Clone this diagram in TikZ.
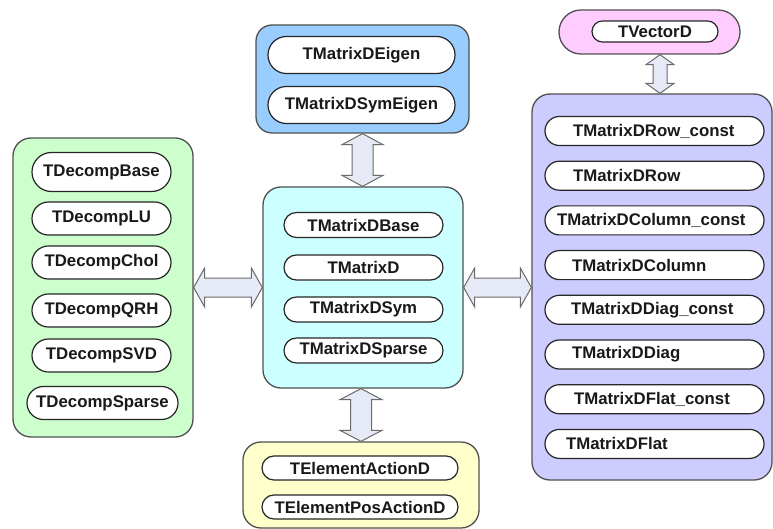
\documentclass[tikz,border=0pt]{standalone}
\usepackage{fontspec}
\setmainfont{Liberation Sans}
\usetikzlibrary{calc}
\definecolor{grn}{HTML}{CCFFCC}
\definecolor{blu}{HTML}{99CCFF}
\definecolor{cya}{HTML}{CCFFFF}
\definecolor{pnk}{HTML}{FFCCFF}
\definecolor{pur}{HTML}{CCCCFF}
\definecolor{yel}{HTML}{FFFFCC}
\definecolor{arf}{HTML}{E6EAF6}
\definecolor{edge}{HTML}{505050}
\definecolor{arline}{HTML}{6A6A6A}

\tikzset{
  grp/.style={draw=edge, line width=1.3pt, rounded corners=18pt, inner sep=0pt},
  pill/.style={draw=black!85, line width=1.2pt, fill=white, inner sep=0pt,
    font=\bfseries\fontsize{16.8}{18}\selectfont, text=black!90},
  gpill/.style={pill, minimum width=139pt, minimum height=33pt, rounded corners=16.4pt},
  cpill/.style={pill, minimum width=159pt, minimum height=25pt, rounded corners=12.4pt},
  bpill/.style={pill, minimum width=187pt, minimum height=37pt, rounded corners=18.4pt},
  ppill/.style={pill, minimum width=219pt, minimum height=29pt, rounded corners=14.4pt, align=left},
  ypill/.style={pill, minimum width=196pt, minimum height=24pt, rounded corners=11.9pt},
  kpill/.style={pill, minimum width=126pt, minimum height=21pt, rounded corners=10.4pt},
  arr/.style={draw=arline, line width=1pt, fill=arf, line join=miter},
}

\newcommand{\myvarrow}[5]{%
  \draw[arr] let \p1=(#1), \p2=(#2) in
  (\x1,\y1) -- (\x1+#3,\y1-#5) -- (\x1+#4,\y1-#5) -- (\x1+#4,\y2+#5) -- (\x1+#3,\y2+#5)
  -- (\x1,\y2) -- (\x1-#3,\y2+#5) -- (\x1-#4,\y2+#5) -- (\x1-#4,\y1-#5) -- (\x1-#3,\y1-#5) -- cycle;}
\newcommand{\myharrow}[5]{%
  \draw[arr] let \p1=(#1), \p2=(#2) in
  (\x1,\y1) -- (\x1+#5,\y1+#3) -- (\x1+#5,\y1+#4) -- (\x2-#5,\y1+#4) -- (\x2-#5,\y1+#3)
  -- (\x2,\y1) -- (\x2-#5,\y1-#3) -- (\x2-#5,\y1-#4) -- (\x1+#5,\y1-#4) -- (\x1+#5,\y1-#3) -- cycle;}

\begin{document}
\begin{tikzpicture}[x=1pt, y=-1pt]
\useasboundingbox (0,0) rectangle (773,529);

% group boxes
\node[grp, fill=grn, minimum width=180pt, minimum height=299pt] (green) at (103,287.5) {};
\node[grp, fill=blu, minimum width=213pt, minimum height=108pt, rounded corners=16pt] (blue) at (362.5,79) {};
\node[grp, fill=cya, minimum width=200pt, minimum height=201pt] (cyan) at (363,287.5) {};
\node[grp, fill=pnk, minimum width=181pt, minimum height=44pt, rounded corners=21.9pt] (pink) at (649.5,32) {};
\node[grp, fill=pur, minimum width=240pt, minimum height=386pt] (purple) at (652,287) {};
\node[grp, fill=yel, minimum width=236pt, minimum height=86pt] (yellow) at (361,485) {};

% green pills
\node[gpill, minimum height=39pt, rounded corners=19.4pt] (g1) at (101.5,172) {TDecompBase};
\node[gpill] (g2) at (101.5,218.5) {TDecompLU};
\node[gpill] (g3) at (101.5,262.5) {TDecompChol};
\node[gpill] (g4) at (101.5,310.5) {TDecompQRH};
\node[gpill] (g5) at (101.5,355.5) {TDecompSVD};
\node[gpill, minimum width=151pt] (g6) at (102.5,403) {TDecompSparse};

% blue pills
\node[bpill] (b1) at (361.5,55) {TMatrixDEigen};
\node[bpill] (b2) at (361.5,105) {TMatrixDSymEigen};

% cyan pills
\node[cpill] (c1) at (363.5,225) {TMatrixDBase};
\node[cpill] (c2) at (363.5,267.5) {TMatrixD};
\node[cpill] (c3) at (363.5,309.5) {TMatrixDSym};
\node[cpill] (c4) at (363.5,350.5) {TMatrixDSparse};

% pink pill
\node[kpill] (k1) at (655,31.5) {TVectorD};

% purple pills
\node[ppill, inner xsep=28pt, text width=163pt] (p1) at (654.5,131) {TMatrixDRow\_const};
\node[ppill, inner xsep=28pt, text width=163pt] (p2) at (654.5,175.7) {TMatrixDRow};
\node[ppill, inner xsep=12pt, text width=195pt] (p3) at (654.5,220.4) {TMatrixDColumn\_const};
\node[ppill, inner xsep=27pt, text width=165pt] (p4) at (654.5,265.1) {TMatrixDColumn};
\node[ppill, inner xsep=26pt, text width=167pt] (p5) at (654.5,309.8) {TMatrixDDiag\_const};
\node[ppill, inner xsep=27pt, text width=165pt] (p6) at (654.5,354.5) {TMatrixDDiag};
\node[ppill, inner xsep=29pt, text width=161pt] (p7) at (654.5,399.2) {TMatrixDFlat\_const};
\node[ppill, inner xsep=21pt, text width=177pt] (p8) at (654.5,443.9) {TMatrixDFlat};

% yellow pills
\node[ypill] (y1) at (360,468) {TElementActionD};
\node[ypill] (y2) at (360,507) {TElementPosActionD};

% connectors
\coordinate (vt) at ($(pink.south)+(10.5,0)$);
\coordinate (vb) at (vt |- purple.north);
\coordinate (cb) at (blue.south |- cyan.north);
\coordinate (ct) at (yellow.north |- cyan.south);
\coordinate (gr) at (cyan.west |- green.east);
\coordinate (pr) at (cyan.east -| purple.west);

\myvarrow{blue.south}{cb}{20.5pt}{10.5pt}{11pt}
\myvarrow{ct}{yellow.north}{21pt}{10.5pt}{11pt}
\myvarrow{vt}{vb}{14pt}{7pt}{10pt}
\myharrow{green.east}{gr}{19.5pt}{9.5pt}{11pt}
\myharrow{cyan.east}{pr}{19.5pt}{9.5pt}{11pt}
\end{tikzpicture}
\end{document}
